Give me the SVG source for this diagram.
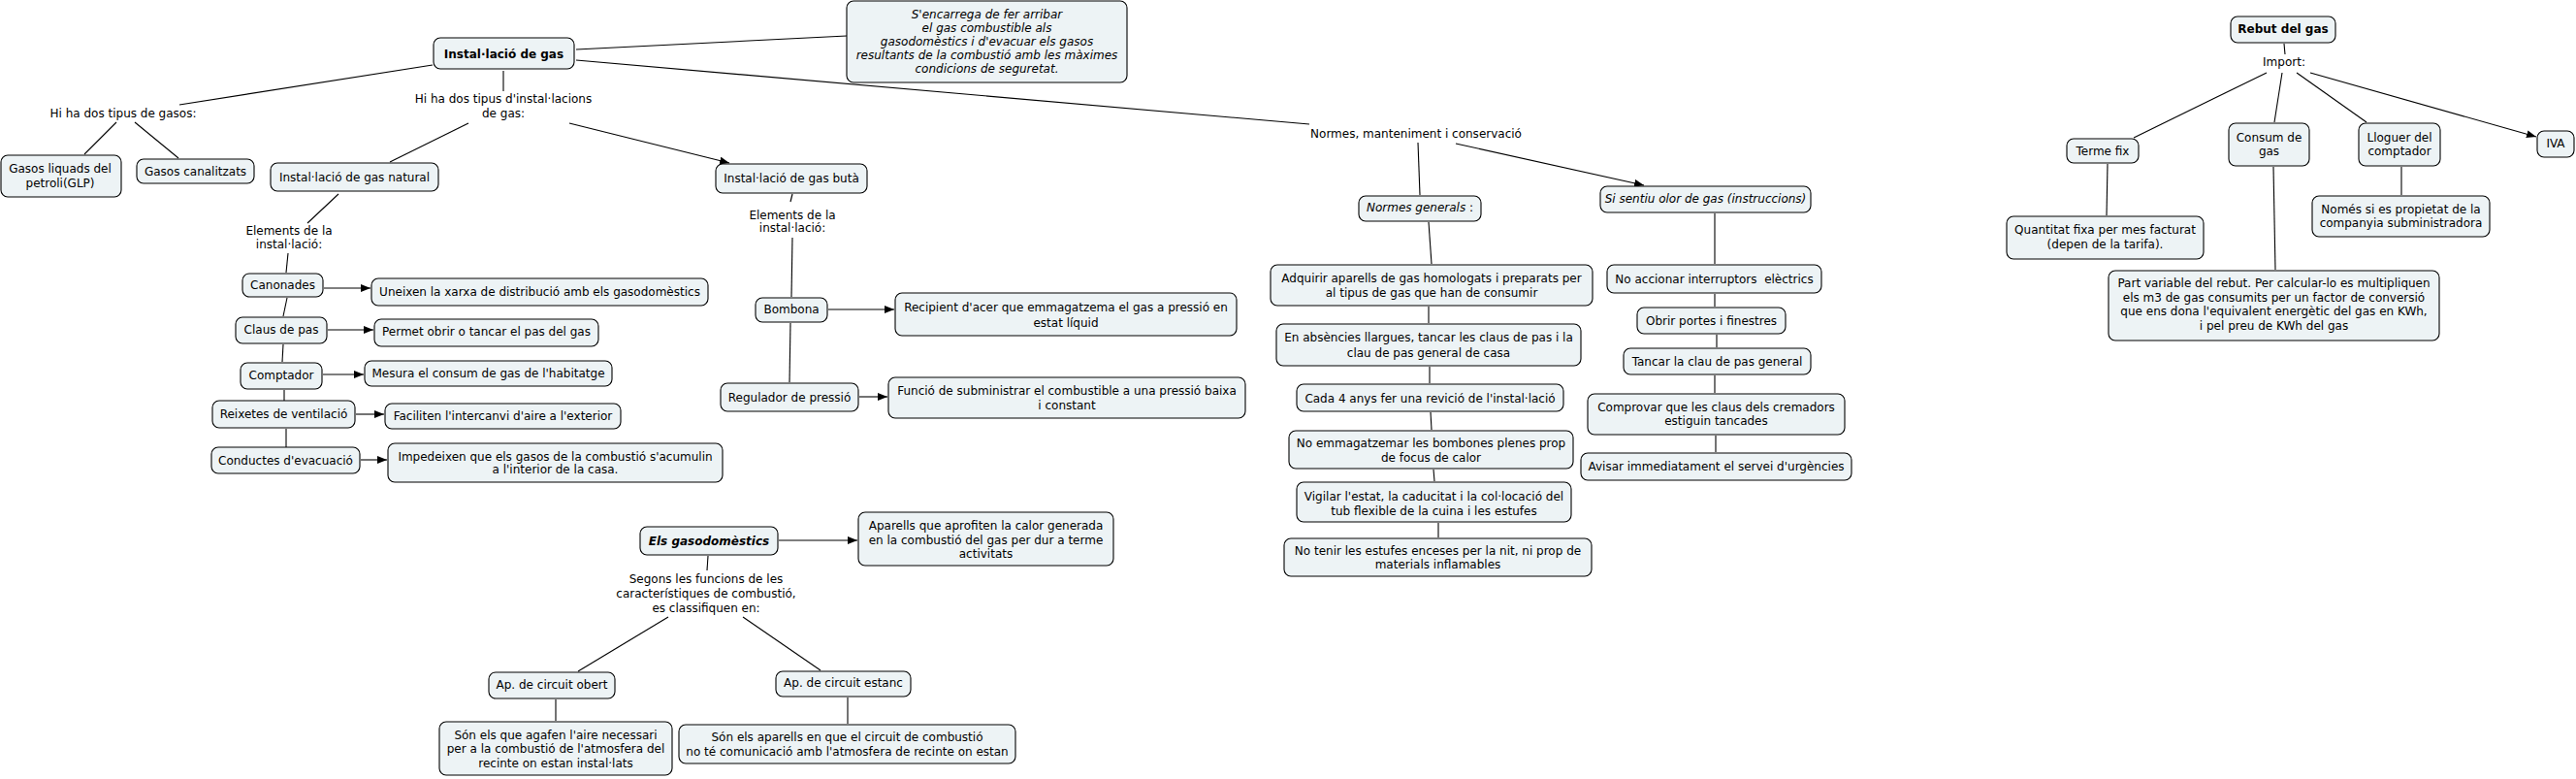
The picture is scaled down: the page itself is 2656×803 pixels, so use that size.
<svg xmlns="http://www.w3.org/2000/svg" width="2656" height="803" viewBox="0 0 2656 803">
<style>
.b{fill:#edf3f5;stroke:#000;stroke-width:1.1}
text{font-family:"DejaVu Sans",Verdana,sans-serif;font-size:12px;text-anchor:middle;fill:#000}
.bd{font-weight:bold}
.it{font-style:italic}
.c line{stroke:#000;stroke-width:1.1}
.c .a{marker-end:url(#ah)}
</style>
<defs>
<marker id="ah" markerUnits="userSpaceOnUse" markerWidth="10" markerHeight="8" refX="10" refY="4" orient="auto">
<path d="M0,0 L10,4 L0,8 z" fill="#000"/>
</marker>
</defs>
<rect width="2656" height="803" fill="#fff"/>
<g class="c" id="connectors">
<line x1="519" y1="73" x2="519" y2="94"/>
<line x1="446" y1="67" x2="185" y2="108"/>
<line x1="120" y1="126" x2="87" y2="159"/>
<line x1="139" y1="126" x2="184" y2="163"/>
<line x1="483" y1="127" x2="402" y2="167"/>
<line class="a" x1="587" y1="127" x2="752" y2="168"/>
<line x1="594" y1="51" x2="873" y2="37"/>
<line x1="594" y1="62" x2="1350" y2="128"/>
<line x1="349" y1="200" x2="317" y2="230"/>
<line x1="297" y1="261" x2="295" y2="281"/>
<line class="a" x1="334" y1="297" x2="382" y2="297"/>
<line x1="296" y1="307" x2="292" y2="326"/>
<line class="a" x1="338" y1="340" x2="385" y2="340"/>
<line x1="292" y1="355" x2="291" y2="373"/>
<line class="a" x1="333" y1="386" x2="375" y2="386"/>
<line x1="293" y1="402" x2="293" y2="413"/>
<line class="a" x1="367" y1="427" x2="396" y2="427"/>
<line x1="295" y1="442" x2="295" y2="461"/>
<line class="a" x1="372" y1="474" x2="399" y2="474"/>
<line x1="817" y1="200" x2="815" y2="208"/>
<line x1="817" y1="245" x2="816" y2="306"/>
<line class="a" x1="854" y1="319" x2="922" y2="319"/>
<line x1="815" y1="333" x2="814" y2="394"/>
<line class="a" x1="886" y1="409" x2="915" y2="409"/>
<line class="a" x1="803" y1="557" x2="884" y2="557"/>
<line x1="730" y1="573" x2="729" y2="588"/>
<line x1="689" y1="636" x2="596" y2="692"/>
<line x1="766" y1="636" x2="846" y2="691"/>
<line x1="573" y1="721" x2="573" y2="743"/>
<line x1="874" y1="719" x2="874" y2="746"/>
<line x1="1462" y1="147" x2="1464" y2="201"/>
<line class="a" x1="1501" y1="148" x2="1695" y2="191"/>
<line x1="1473" y1="229" x2="1476" y2="272"/>
<line x1="1768" y1="220" x2="1768" y2="272"/>
<line x1="1768" y1="303" x2="1768" y2="316"/>
<line x1="1473" y1="316" x2="1473" y2="333"/>
<line x1="1474" y1="378" x2="1474" y2="395"/>
<line x1="1475" y1="425" x2="1476" y2="443"/>
<line x1="1478" y1="484" x2="1479" y2="496"/>
<line x1="1483" y1="539" x2="1483" y2="554"/>
<line x1="1770" y1="345" x2="1770" y2="358"/>
<line x1="1768" y1="387" x2="1768" y2="405"/>
<line x1="1769" y1="449" x2="1769" y2="466"/>
<line x1="2355" y1="45" x2="2356" y2="56"/>
<line x1="2337" y1="75" x2="2200" y2="142"/>
<line x1="2353" y1="75" x2="2345" y2="126"/>
<line x1="2368" y1="75" x2="2440" y2="126"/>
<line class="a" x1="2382" y1="75" x2="2615" y2="141"/>
<line x1="2173" y1="169" x2="2172" y2="222"/>
<line x1="2344" y1="172" x2="2346" y2="278"/>
<line x1="2476" y1="172" x2="2476" y2="201"/>
</g>
<g id="n-installacio"><rect class="b" x="447" y="39" width="145" height="32" rx="7"/><text class="bd" x="519.5" y="60">Instal·lació de gas</text></g>
<g id="l-tipus-inst"><text x="519" y="106">Hi ha dos tipus d'instal·lacions</text><text x="519" y="121">de gas:</text></g>
<g id="l-tipus-gas"><text x="127" y="121">Hi ha dos tipus de gasos:</text></g>
<g id="n-glp"><rect class="b" x="1" y="160" width="124" height="43" rx="7"/><text x="62" y="178">Gasos liquads del</text><text x="62" y="193">petroli(GLP)</text></g>
<g id="n-canalitzats"><rect class="b" x="141" y="164" width="121" height="25" rx="7"/><text x="201.5" y="181">Gasos canalitzats</text></g>
<g id="n-natural"><rect class="b" x="279" y="168" width="173" height="29" rx="7"/><text x="365.5" y="187">Instal·lació de gas natural</text></g>
<g id="l-elements1"><text x="298" y="242">Elements de la</text><text x="298" y="256">instal·lació:</text></g>
<g id="n-canonades"><rect class="b" x="250" y="282" width="83" height="24" rx="7"/><text x="291.5" y="298">Canonades</text></g>
<g id="n-uneixen"><rect class="b" x="383" y="287" width="347" height="28" rx="7"/><text x="556.5" y="305">Uneixen la xarxa de distribució amb els gasodomèstics</text></g>
<g id="n-claus"><rect class="b" x="243" y="327" width="94" height="27" rx="7"/><text x="290" y="344">Claus de pas</text></g>
<g id="n-permet"><rect class="b" x="386" y="329" width="231" height="28" rx="7"/><text x="501.5" y="346">Permet obrir o tancar el pas del gas</text></g>
<g id="n-comptador"><rect class="b" x="248" y="374" width="84" height="27" rx="7"/><text x="290" y="391">Comptador</text></g>
<g id="n-mesura"><rect class="b" x="376" y="372" width="255" height="26" rx="7"/><text x="503.5" y="389">Mesura el consum de gas de l'habitatge</text></g>
<g id="n-reixetes"><rect class="b" x="219" y="413" width="147" height="28" rx="7"/><text x="292.5" y="431">Reixetes de ventilació</text></g>
<g id="n-faciliten"><rect class="b" x="397" y="416" width="243" height="26" rx="7"/><text x="518.5" y="433">Faciliten l'intercanvi d'aire a l'exterior</text></g>
<g id="n-conductes"><rect class="b" x="218" y="461" width="153" height="27" rx="7"/><text x="294.5" y="479">Conductes d'evacuació</text></g>
<g id="n-impedeixen"><rect class="b" x="400" y="457" width="345" height="40" rx="7"/><text x="572.5" y="475">Impedeixen que els gasos de la combustió s'acumulin</text><text x="572.5" y="488">a l'interior de la casa.</text></g>
<g id="n-encarrega"><rect class="b" x="873" y="1" width="289" height="84" rx="7"/><text class="it" x="1017.5" y="19">S'encarrega de fer arribar</text><text class="it" x="1017.5" y="33">el gas combustible als</text><text class="it" x="1017.5" y="47">gasodomèstics i d'evacuar els gasos</text><text class="it" x="1017.5" y="61">resultants de la combustió amb les màximes</text><text class="it" x="1017.5" y="75">condicions de seguretat.</text></g>
<g id="n-buta"><rect class="b" x="738" y="169" width="156" height="30" rx="7"/><text x="816" y="188">Instal·lació de gas butà</text></g>
<g id="l-elements2"><text x="817" y="226">Elements de la</text><text x="817" y="239">instal·lació:</text></g>
<g id="n-bombona"><rect class="b" x="779" y="307" width="74" height="25" rx="7"/><text x="816" y="323">Bombona</text></g>
<g id="n-recipient"><rect class="b" x="923" y="302" width="352" height="44" rx="7"/><text x="1099" y="321">Recipient d'acer que emmagatzema el gas a pressió en</text><text x="1099" y="337">estat líquid</text></g>
<g id="n-regulador"><rect class="b" x="743" y="395" width="142" height="29" rx="7"/><text x="814" y="414">Regulador de pressió</text></g>
<g id="n-funcio"><rect class="b" x="916" y="389" width="368" height="42" rx="7"/><text x="1100" y="407">Funció de subministrar el combustible a una pressió baixa</text><text x="1100" y="422">i constant</text></g>
<g id="n-gasodomestics"><rect class="b" x="660" y="543" width="142" height="29" rx="7"/><text class="bd it" x="731" y="562">Els gasodomèstics</text></g>
<g id="n-aparells"><rect class="b" x="885" y="528" width="263" height="55" rx="7"/><text x="1016.5" y="546">Aparells que aprofiten la calor generada</text><text x="1016.5" y="561">en la combustió del gas per dur a terme</text><text x="1016.5" y="575">activitats</text></g>
<g id="l-segons"><text x="728" y="601">Segons les funcions de les</text><text x="728" y="616">característiques de combustió,</text><text x="728" y="631">es classifiquen en:</text></g>
<g id="n-obert"><rect class="b" x="504" y="693" width="130" height="27" rx="7"/><text x="569" y="710">Ap. de circuit obert</text></g>
<g id="n-estanc"><rect class="b" x="800" y="692" width="139" height="26" rx="7"/><text x="869.5" y="708">Ap. de circuit estanc</text></g>
<g id="n-obert-desc"><rect class="b" x="453" y="744" width="240" height="55" rx="7"/><text x="573" y="762">Són els que agafen l'aire necessari</text><text x="573" y="776">per a la combustió de l'atmosfera del</text><text x="573" y="791">recinte on estan instal·lats</text></g>
<g id="n-estanc-desc"><rect class="b" x="700" y="747" width="347" height="40" rx="7"/><text x="873.5" y="764">Són els aparells en que el circuit de combustió</text><text x="873.5" y="779">no té comunicació amb l'atmosfera de recinte on estan</text></g>
<g id="l-normes"><text x="1460" y="142">Normes, manteniment i conservació</text></g>
<g id="n-normes-generals"><rect class="b" x="1401" y="202" width="126" height="26" rx="7"/><text x="1464" y="218"><tspan class="it">Normes generals</tspan> :</text></g>
<g id="n-si-sentiu"><rect class="b" x="1650" y="192" width="217" height="27" rx="7"/><text class="it" x="1758.5" y="209">Si sentiu olor de gas (instruccions)</text></g>
<g id="n-adquirir"><rect class="b" x="1310" y="273" width="332" height="42" rx="7"/><text x="1476" y="291">Adquirir aparells de gas homologats i preparats per</text><text x="1476" y="306">al tipus de gas que han de consumir</text></g>
<g id="n-absencies"><rect class="b" x="1316" y="334" width="314" height="43" rx="7"/><text x="1473" y="352">En absències llargues, tancar les claus de pas i la</text><text x="1473" y="368">clau de pas general de casa</text></g>
<g id="n-cada4"><rect class="b" x="1337" y="396" width="275" height="28" rx="7"/><text x="1474.5" y="415">Cada 4 anys fer una revició de l'instal·lació</text></g>
<g id="n-emmagatzemar"><rect class="b" x="1329" y="444" width="293" height="39" rx="7"/><text x="1475.5" y="461">No emmagatzemar les bombones plenes prop</text><text x="1475.5" y="476">de focus de calor</text></g>
<g id="n-vigilar"><rect class="b" x="1337" y="497" width="283" height="41" rx="7"/><text x="1478.5" y="516">Vigilar l'estat, la caducitat i la col·locació del</text><text x="1478.5" y="531">tub flexible de la cuina i les estufes</text></g>
<g id="n-no-tenir"><rect class="b" x="1324" y="555" width="317" height="39" rx="7"/><text x="1482.5" y="572">No tenir les estufes enceses per la nit, ni prop de</text><text x="1482.5" y="586">materials inflamables</text></g>
<g id="n-no-accionar"><rect class="b" x="1657" y="273" width="221" height="29" rx="7"/><text x="1767.5" y="292" xml:space="preserve">No accionar interruptors  elèctrics</text></g>
<g id="n-obrir"><rect class="b" x="1688" y="317" width="153" height="27" rx="7"/><text x="1764.5" y="335">Obrir portes i finestres</text></g>
<g id="n-tancar"><rect class="b" x="1674" y="359" width="193" height="27" rx="7"/><text x="1770.5" y="377">Tancar la clau de pas general</text></g>
<g id="n-comprovar"><rect class="b" x="1637" y="406" width="265" height="42" rx="7"/><text x="1769.5" y="424">Comprovar que les claus dels cremadors</text><text x="1769.5" y="438">estiguin tancades</text></g>
<g id="n-avisar"><rect class="b" x="1630" y="467" width="279" height="28" rx="7"/><text x="1769.5" y="485">Avisar immediatament el servei d'urgències</text></g>
<g id="n-rebut"><rect class="b" x="2300" y="17" width="108" height="27" rx="7"/><text class="bd" x="2354" y="34">Rebut del gas</text></g>
<g id="l-import"><text x="2355" y="68">Import:</text></g>
<g id="n-terme"><rect class="b" x="2131" y="143" width="74" height="25" rx="7"/><text x="2168" y="160">Terme fix</text></g>
<g id="n-consum"><rect class="b" x="2298" y="127" width="83" height="44" rx="7"/><text x="2339.5" y="146">Consum de</text><text x="2339.5" y="160">gas</text></g>
<g id="n-lloguer"><rect class="b" x="2432" y="127" width="84" height="44" rx="7"/><text x="2474" y="146">Lloguer del</text><text x="2474" y="160">comptador</text></g>
<g id="n-iva"><rect class="b" x="2616" y="135" width="38" height="27" rx="7"/><text x="2635" y="152">IVA</text></g>
<g id="n-quantitat"><rect class="b" x="2069" y="223" width="203" height="44" rx="7"/><text x="2170.5" y="241">Quantitat fixa per mes facturat</text><text x="2170.5" y="256">(depen de la tarifa).</text></g>
<g id="n-nomes"><rect class="b" x="2384" y="202" width="183" height="42" rx="7"/><text x="2475.5" y="220">Només si es propietat de la</text><text x="2475.5" y="234">companyia subministradora</text></g>
<g id="n-part"><rect class="b" x="2174" y="279" width="341" height="72" rx="7"/><text x="2344.5" y="296">Part variable del rebut. Per calcular-lo es multipliquen</text><text x="2344.5" y="311">els m3 de gas consumits per un factor de conversió</text><text x="2344.5" y="325">que ens dona l'equivalent energètic del gas en KWh,</text><text x="2344.5" y="340">i pel preu de KWh del gas</text></g>
</svg>
